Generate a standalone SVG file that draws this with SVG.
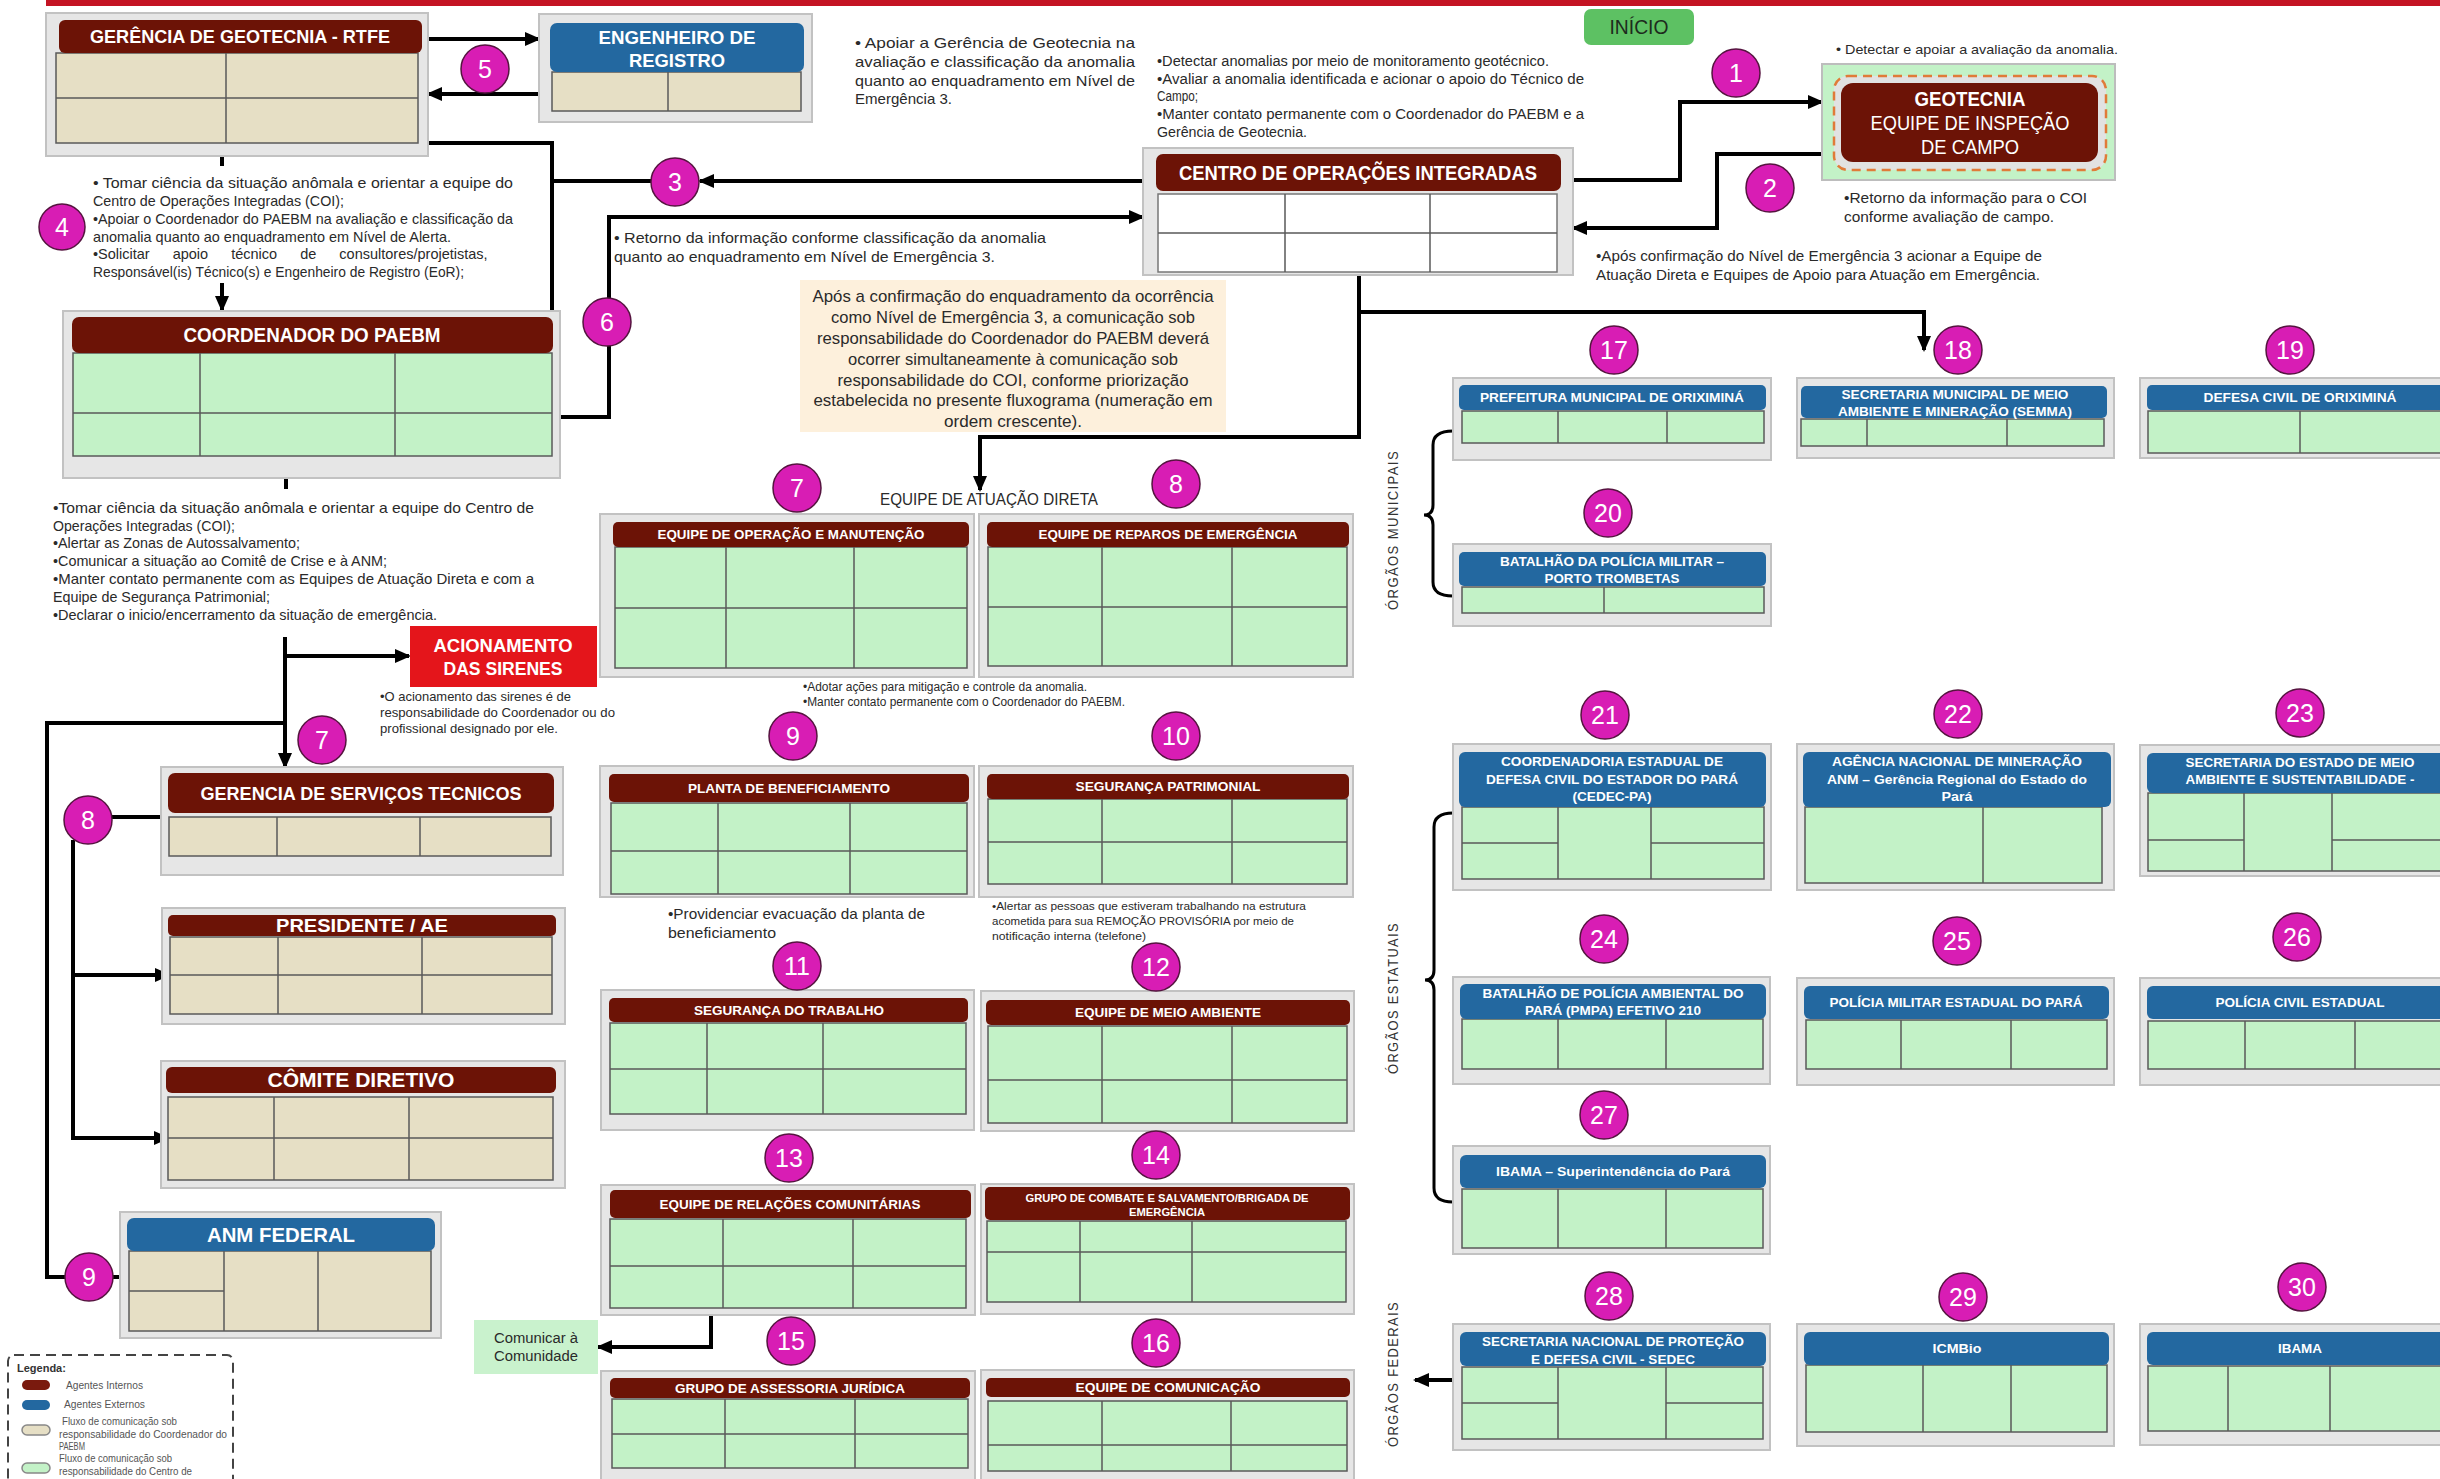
<svg xmlns="http://www.w3.org/2000/svg" width="2440" height="1479" viewBox="0 0 2440 1479">
<defs>
<marker id="ah" markerWidth="16" markerHeight="16" refX="14" refY="8" orient="auto" markerUnits="userSpaceOnUse"><path d="M0,1 L16,8 L0,15 z" fill="#000"/></marker>
<style>
text{font-family:"Liberation Sans",Arial,sans-serif}
.o{fill:#e6e6e6;stroke:#c2c2c2;stroke-width:2}
.hr{fill:#6c1306}
.hb{fill:#2368a0}
.tb{fill:#e6dfc5;stroke:#5a5a5a;stroke-width:1.5}
.tg{fill:#c3f2c7;stroke:#5a5a5a;stroke-width:1.5}
.tw{fill:#fff;stroke:#777;stroke-width:1.5}
.g{stroke:#5a5a5a;stroke-width:1.5;fill:none}
.ht{fill:#fff;font-weight:bold;text-anchor:middle}
.c{stroke:#000;stroke-width:4;fill:none}
.ca{stroke:#000;stroke-width:4;fill:none;marker-end:url(#ah)}
.n circle{fill:#d81db4;stroke:#55143f;stroke-width:1.5}
.n text{fill:#fff;font-size:25px;text-anchor:middle}
.p{fill:#2a2a2a}
.lg{fill:#555;font-size:10.5px}
.org{fill:#333;font-size:14px;text-anchor:middle;letter-spacing:1.5px}
</style>
</defs>
<rect x="0" y="0" width="2440" height="1479" fill="#fff"/>
<rect x="46" y="0" width="2394" height="6" fill="#c41423"/>

<!-- connectors -->
<g id="connectors">
<path class="ca" d="M428,39H539"/>
<path class="ca" d="M539,94H428"/>
<path class="ca" d="M1143,181H700"/>
<path class="c" d="M651,181H552"/>
<path class="c" d="M428,143H552V311"/>
<path class="c" d="M222,156V166"/>
<path class="ca" d="M222,283V310"/>
<path class="ca" d="M560,417H609V217H1143"/>
<path class="ca" d="M1573,180H1680V102H1822"/>
<path class="ca" d="M1822,154H1717V228H1573"/>
<path class="ca" d="M1359,275V437H980V490"/>
<path class="ca" d="M1359,312H1924V350"/>
<path class="c" d="M286,478V489"/>
<path class="ca" d="M285,637V767"/>
<path class="ca" d="M285,656H409"/>
<path class="c" d="M285,723H47V1277H65"/>
<path class="c" d="M113,1277H120"/>
<path class="c" d="M112,817H161"/>
<path class="ca" d="M73,840V1138H168"/>
<path class="ca" d="M73,975H169"/>
<path class="ca" d="M711,1315V1347H598"/>
<path class="ca" d="M1453,1380H1415"/>
<path fill="none" stroke="#000" stroke-width="3" d="M1453,431Q1433,431 1433,445V505Q1433,515 1424,515Q1433,515 1433,525V582Q1433,596 1453,596"/>
<path fill="none" stroke="#000" stroke-width="3" d="M1453,813Q1434,813 1434,827V970Q1434,980 1425,980Q1434,980 1434,990V1188Q1434,1202 1453,1202"/>
</g>

<!-- top items -->
<g id="inicio">
<rect x="1584" y="9" width="110" height="36" rx="7" fill="#5dc163"/>
<text x="1639" y="34" font-size="20" fill="#1d2b1d" text-anchor="middle" textLength="59" lengthAdjust="spacingAndGlyphs">INÍCIO</text>
</g>

<g id="gerencia-geotecnia">
<rect class="o" x="46" y="13" width="382" height="143"/>
<rect class="tb" x="56" y="53" width="362" height="90"/>
<path class="g" d="M56,98H418M226,53V143"/>
<rect class="hr" x="59" y="20" width="363" height="33" rx="6"/>
<text class="ht" x="240" y="43" font-size="19" textLength="300" lengthAdjust="spacingAndGlyphs">GERÊNCIA DE GEOTECNIA - RTFE</text>
</g>

<g id="engenheiro-registro">
<rect class="o" x="539" y="14" width="273" height="108"/>
<rect class="tb" x="552" y="72" width="249" height="39"/>
<path class="g" d="M668,72V111"/>
<rect class="hb" x="550" y="23" width="254" height="49" rx="7"/>
<text class="ht" x="677" y="44" font-size="19" textLength="157" lengthAdjust="spacingAndGlyphs">ENGENHEIRO DE</text>
<text class="ht" x="677" y="67" font-size="19" textLength="96" lengthAdjust="spacingAndGlyphs">REGISTRO</text>
</g>

<g id="coi">
<rect class="o" x="1143" y="148" width="430" height="127"/>
<rect class="tw" x="1158" y="194" width="399" height="78"/>
<path class="g" d="M1158,233H1557M1285,194V272M1430,194V272" stroke="#777"/>
<rect class="hr" x="1156" y="154" width="405" height="37" rx="7"/>
<text class="ht" x="1358" y="180" font-size="20" textLength="358" lengthAdjust="spacingAndGlyphs">CENTRO DE OPERAÇÕES INTEGRADAS</text>
</g>

<g id="geotecnia-campo">
<rect x="1822" y="64" width="293" height="116" fill="#c3f2c7" stroke="#bdbdbd" stroke-width="2"/>
<rect x="1834" y="76" width="272" height="94" rx="14" fill="#e2e2e2" stroke="#e07b39" stroke-width="2.5" stroke-dasharray="9 6"/>
<rect x="1841" y="83" width="257" height="79" rx="12" fill="#6c1306"/>
<text class="ht" x="1970" y="106" font-size="20" textLength="111" lengthAdjust="spacingAndGlyphs">GEOTECNIA</text>
<text x="1970" y="130" font-size="20" fill="#fff" text-anchor="middle" textLength="199" lengthAdjust="spacingAndGlyphs">EQUIPE DE INSPEÇÃO</text>
<text x="1970" y="154" font-size="20" fill="#fff" text-anchor="middle" textLength="98" lengthAdjust="spacingAndGlyphs">DE CAMPO</text>
</g>

<g id="coordenador-paebm">
<rect class="o" x="63" y="311" width="497" height="167"/>
<rect class="tg" x="73" y="353" width="479" height="103"/>
<path class="g" d="M73,413H552M200,353V456M395,353V456"/>
<rect class="hr" x="72" y="317" width="481" height="36" rx="7"/>
<text class="ht" x="312" y="342" font-size="20" textLength="257" lengthAdjust="spacingAndGlyphs">COORDENADOR DO PAEBM</text>
</g>

<!-- paragraphs -->
<g id="texts" class="p">
<text font-size="15" x="855" y="48" textLength="280" lengthAdjust="spacingAndGlyphs">• Apoiar a Gerência de Geotecnia na</text>
<text font-size="15" x="855" y="67" textLength="280" lengthAdjust="spacingAndGlyphs">avaliação e classificação da anomalia</text>
<text font-size="15" x="855" y="86" textLength="280" lengthAdjust="spacingAndGlyphs">quanto ao enquadramento em Nível de</text>
<text font-size="15" x="855" y="104" textLength="97" lengthAdjust="spacingAndGlyphs">Emergência 3.</text>

<text font-size="14" x="1157" y="66" textLength="392" lengthAdjust="spacingAndGlyphs">•Detectar anomalias por meio de monitoramento geotécnico.</text>
<text font-size="14" x="1157" y="84" textLength="427" lengthAdjust="spacingAndGlyphs">•Avaliar a anomalia identificada e acionar o apoio do Técnico de</text>
<text font-size="14" x="1157" y="101" textLength="41" lengthAdjust="spacingAndGlyphs">Campo;</text>
<text font-size="14" x="1157" y="119" textLength="427" lengthAdjust="spacingAndGlyphs">•Manter contato permanente com o Coordenador do PAEBM e a</text>
<text font-size="14" x="1157" y="137" textLength="150" lengthAdjust="spacingAndGlyphs">Gerência de Geotecnia.</text>

<text font-size="13.5" x="1836" y="54" textLength="282" lengthAdjust="spacingAndGlyphs">• Detectar e apoiar a avaliação da anomalia.</text>
<text font-size="15" x="1844" y="203" textLength="243" lengthAdjust="spacingAndGlyphs">•Retorno da informação para o COI</text>
<text font-size="15" x="1844" y="222" textLength="210" lengthAdjust="spacingAndGlyphs">conforme avaliação de campo.</text>
<text font-size="15" x="1596" y="261" textLength="446" lengthAdjust="spacingAndGlyphs">•Após confirmação do Nível de Emergência 3 acionar a Equipe de</text>
<text font-size="15" x="1596" y="280" textLength="444" lengthAdjust="spacingAndGlyphs">Atuação Direta e Equipes de Apoio para Atuação em Emergência.</text>

<text font-size="14.5" x="93" y="188" textLength="420" lengthAdjust="spacingAndGlyphs">• Tomar ciência da situação anômala e orientar a equipe do</text>
<text font-size="14.5" x="93" y="206" textLength="251" lengthAdjust="spacingAndGlyphs">Centro de Operações Integradas (COI);</text>
<text font-size="14.5" x="93" y="224" textLength="420" lengthAdjust="spacingAndGlyphs">•Apoiar o Coordenador do PAEBM na avaliação e classificação da</text>
<text font-size="14.5" x="93" y="242" textLength="358" lengthAdjust="spacingAndGlyphs">anomalia quanto ao enquadramento em Nível de Alerta.</text>
<text font-size="14.5" x="93" y="259" word-spacing="19">•Solicitar apoio técnico de consultores/projetistas,</text>
<text font-size="14.5" x="93" y="277" textLength="371" lengthAdjust="spacingAndGlyphs">Responsável(is) Técnico(s) e Engenheiro de Registro (EoR);</text>

<text font-size="15" x="614" y="243" textLength="432" lengthAdjust="spacingAndGlyphs">• Retorno da informação conforme classificação da anomalia</text>
<text font-size="15" x="614" y="262" textLength="381" lengthAdjust="spacingAndGlyphs">quanto ao enquadramento em Nível de Emergência 3.</text>

<text font-size="14.5" x="53" y="513" textLength="481" lengthAdjust="spacingAndGlyphs">•Tomar ciência da situação anômala e orientar a equipe do Centro de</text>
<text font-size="14.5" x="53" y="531" textLength="182" lengthAdjust="spacingAndGlyphs">Operações Integradas (COI);</text>
<text font-size="14.5" x="53" y="548" textLength="247" lengthAdjust="spacingAndGlyphs">•Alertar as Zonas de Autossalvamento;</text>
<text font-size="14.5" x="53" y="566" textLength="334" lengthAdjust="spacingAndGlyphs">•Comunicar a situação ao Comitê de Crise  e à ANM;</text>
<text font-size="14.5" x="53" y="584" textLength="481" lengthAdjust="spacingAndGlyphs">•Manter contato permanente com as Equipes de Atuação Direta e com a</text>
<text font-size="14.5" x="53" y="602" textLength="217" lengthAdjust="spacingAndGlyphs">Equipe de Segurança Patrimonial;</text>
<text font-size="14.5" x="53" y="620" textLength="384" lengthAdjust="spacingAndGlyphs">•Declarar o inicio/encerramento da situação de emergência.</text>

<text font-size="13" x="380" y="701" textLength="191" lengthAdjust="spacingAndGlyphs">•O acionamento das sirenes é de</text>
<text font-size="13" x="380" y="717" textLength="235" lengthAdjust="spacingAndGlyphs">responsabilidade do Coordenador ou do</text>
<text font-size="13" x="380" y="733" textLength="178" lengthAdjust="spacingAndGlyphs">profissional designado por ele.</text>

<text font-size="12" x="803" y="691" textLength="284" lengthAdjust="spacingAndGlyphs">•Adotar ações para mitigação e controle da anomalia.</text>
<text font-size="12" x="803" y="706" textLength="322" lengthAdjust="spacingAndGlyphs">•Manter contato permanente com o Coordenador do PAEBM.</text>

<text font-size="15" x="668" y="919" textLength="257" lengthAdjust="spacingAndGlyphs">•Providenciar evacuação da planta de</text>
<text font-size="15" x="668" y="938" textLength="108" lengthAdjust="spacingAndGlyphs">beneficiamento</text>

<text font-size="11.5" x="992" y="910" textLength="314" lengthAdjust="spacingAndGlyphs">•Alertar as pessoas que estiveram trabalhando na estrutura</text>
<text font-size="11.5" x="992" y="925" textLength="302" lengthAdjust="spacingAndGlyphs">acometida para sua  REMOÇÃO PROVISÓRIA por meio de</text>
<text font-size="11.5" x="992" y="940" textLength="154" lengthAdjust="spacingAndGlyphs">notificação interna (telefone)</text>

<text font-size="17" x="880" y="505" textLength="218" lengthAdjust="spacingAndGlyphs">EQUIPE DE ATUAÇÃO DIRETA</text>
</g>

<g id="nota-priorizacao">
<rect x="800" y="280" width="426" height="152" fill="#fdf0dc"/>
<g class="p" font-size="17" text-anchor="middle">
<text x="1013" y="302" textLength="401" lengthAdjust="spacingAndGlyphs">Após a confirmação do enquadramento da ocorrência</text>
<text x="1013" y="323" textLength="364" lengthAdjust="spacingAndGlyphs">como Nível de Emergência 3, a comunicação sob</text>
<text x="1013" y="344" textLength="392" lengthAdjust="spacingAndGlyphs">responsabilidade do Coordenador do PAEBM deverá</text>
<text x="1013" y="365" textLength="330" lengthAdjust="spacingAndGlyphs">ocorrer simultaneamente à comunicação sob</text>
<text x="1013" y="386" textLength="351" lengthAdjust="spacingAndGlyphs">responsabilidade do COI, conforme priorização</text>
<text x="1013" y="406" textLength="399" lengthAdjust="spacingAndGlyphs">estabelecida no presente fluxograma (numeração em</text>
<text x="1013" y="427" textLength="138" lengthAdjust="spacingAndGlyphs">ordem crescente).</text>
</g>
</g>

<g id="acionamento-sirenes">
<rect x="410" y="626" width="187" height="61" fill="#e4151b"/>
<text class="ht" x="503" y="652" font-size="19" textLength="139" lengthAdjust="spacingAndGlyphs">ACIONAMENTO</text>
<text class="ht" x="503" y="675" font-size="19" textLength="119" lengthAdjust="spacingAndGlyphs">DAS SIRENES</text>
</g>

<!-- left column -->
<g id="gerencia-servicos">
<rect class="o" x="161" y="767" width="402" height="108"/>
<rect class="tb" x="169" y="817" width="382" height="39"/>
<path class="g" d="M277,817V856M420,817V856"/>
<rect class="hr" x="168" y="773" width="386" height="40" rx="7"/>
<text class="ht" x="361" y="800" font-size="19" textLength="321" lengthAdjust="spacingAndGlyphs">GERENCIA DE SERVIÇOS TECNICOS</text>
</g>
<g id="presidente-ae">
<rect class="o" x="162" y="908" width="403" height="116"/>
<rect class="tb" x="170" y="937" width="382" height="77"/>
<path class="g" d="M170,975H552M278,937V1014M422,937V1014"/>
<rect class="hr" x="168" y="915" width="388" height="21" rx="5"/>
<text class="ht" x="362" y="932" font-size="19" textLength="172" lengthAdjust="spacingAndGlyphs">PRESIDENTE / AE</text>
</g>
<g id="comite-diretivo">
<rect class="o" x="161" y="1061" width="404" height="127"/>
<rect class="tb" x="168" y="1097" width="385" height="83"/>
<path class="g" d="M168,1138H553M274,1097V1180M409,1097V1180"/>
<rect class="hr" x="166" y="1067" width="390" height="26" rx="6"/>
<text class="ht" x="361" y="1087" font-size="20" textLength="187" lengthAdjust="spacingAndGlyphs">CÔMITE DIRETIVO</text>
</g>
<g id="anm-federal">
<rect class="o" x="120" y="1212" width="321" height="126"/>
<rect class="tb" x="129" y="1251" width="302" height="80"/>
<path class="g" d="M224,1251V1331M318,1251V1331M129,1291H224"/>
<rect class="hb" x="127" y="1218" width="308" height="33" rx="7"/>
<text class="ht" x="281" y="1242" font-size="20" textLength="148" lengthAdjust="spacingAndGlyphs">ANM FEDERAL</text>
</g>

<!-- direct teams -->
<g id="eq-operacao-manutencao">
<rect class="o" x="600" y="514" width="374" height="163"/>
<rect class="tg" x="615" y="547" width="352" height="121"/>
<path class="g" d="M615,608H967M726,547V668M854,547V668"/>
<rect class="hr" x="613" y="522" width="356" height="25" rx="5"/>
<text class="ht" x="791" y="539" font-size="13" textLength="267" lengthAdjust="spacingAndGlyphs">EQUIPE DE OPERAÇÃO E MANUTENÇÃO</text>
</g>
<g id="eq-reparos-emergencia">
<rect class="o" x="979" y="514" width="374" height="163"/>
<rect class="tg" x="988" y="547" width="359" height="119"/>
<path class="g" d="M988,607H1347M1102,547V666M1232,547V666"/>
<rect class="hr" x="987" y="522" width="362" height="25" rx="5"/>
<text class="ht" x="1168" y="539" font-size="13" textLength="259" lengthAdjust="spacingAndGlyphs">EQUIPE DE REPAROS DE EMERGÊNCIA</text>
</g>
<g id="planta-beneficiamento">
<rect class="o" x="600" y="766" width="374" height="131"/>
<rect class="tg" x="611" y="803" width="356" height="91"/>
<path class="g" d="M611,851H967M718,803V894M850,803V894"/>
<rect class="hr" x="609" y="774" width="360" height="28" rx="5"/>
<text class="ht" x="789" y="793" font-size="13" textLength="202" lengthAdjust="spacingAndGlyphs">PLANTA DE BENEFICIAMENTO</text>
</g>
<g id="seguranca-patrimonial">
<rect class="o" x="979" y="766" width="374" height="131"/>
<rect class="tg" x="988" y="799" width="359" height="85"/>
<path class="g" d="M988,842H1347M1102,799V884M1232,799V884"/>
<rect class="hr" x="987" y="774" width="362" height="25" rx="5"/>
<text class="ht" x="1168" y="791" font-size="13" textLength="185" lengthAdjust="spacingAndGlyphs">SEGURANÇA PATRIMONIAL</text>
</g>
<g id="seguranca-trabalho">
<rect class="o" x="601" y="990" width="373" height="140"/>
<rect class="tg" x="610" y="1023" width="356" height="91"/>
<path class="g" d="M610,1069H966M707,1023V1114M823,1023V1114"/>
<rect class="hr" x="609" y="998" width="359" height="24" rx="5"/>
<text class="ht" x="789" y="1015" font-size="13" textLength="190" lengthAdjust="spacingAndGlyphs">SEGURANÇA DO TRABALHO</text>
</g>
<g id="meio-ambiente">
<rect class="o" x="981" y="991" width="373" height="140"/>
<rect class="tg" x="988" y="1026" width="359" height="97"/>
<path class="g" d="M988,1080H1347M1102,1026V1123M1232,1026V1123"/>
<rect class="hr" x="986" y="1000" width="364" height="25" rx="5"/>
<text class="ht" x="1168" y="1017" font-size="13" textLength="186" lengthAdjust="spacingAndGlyphs">EQUIPE DE MEIO AMBIENTE</text>
</g>
<g id="relacoes-comunitarias">
<rect class="o" x="601" y="1185" width="374" height="130"/>
<rect class="tg" x="610" y="1219" width="356" height="89"/>
<path class="g" d="M610,1266H966M723,1219V1308M853,1219V1308"/>
<rect class="hr" x="610" y="1190" width="361" height="28" rx="5"/>
<text class="ht" x="790" y="1209" font-size="13" textLength="261" lengthAdjust="spacingAndGlyphs">EQUIPE DE RELAÇÕES COMUNITÁRIAS</text>
</g>
<g id="brigada-emergencia">
<rect class="o" x="981" y="1184" width="373" height="130"/>
<rect class="tg" x="987" y="1221" width="359" height="81"/>
<path class="g" d="M987,1252H1346M1080,1221V1302M1192,1221V1302"/>
<rect class="hr" x="985" y="1187" width="365" height="33" rx="5"/>
<text class="ht" x="1167" y="1202" font-size="11.5" textLength="283" lengthAdjust="spacingAndGlyphs">GRUPO DE COMBATE E SALVAMENTO/BRIGADA DE</text>
<text class="ht" x="1167" y="1216" font-size="11.5" textLength="76" lengthAdjust="spacingAndGlyphs">EMERGÊNCIA</text>
</g>
<g id="assessoria-juridica">
<rect class="o" x="601" y="1371" width="374" height="120"/>
<rect class="tg" x="612" y="1399" width="356" height="69"/>
<path class="g" d="M612,1434H968M725,1399V1468M855,1399V1468"/>
<rect class="hr" x="610" y="1378" width="360" height="20" rx="5"/>
<text class="ht" x="790" y="1393" font-size="13" textLength="230" lengthAdjust="spacingAndGlyphs">GRUPO DE ASSESSORIA JURÍDICA</text>
</g>
<g id="equipe-comunicacao">
<rect class="o" x="981" y="1370" width="373" height="120"/>
<rect class="tg" x="988" y="1401" width="359" height="70"/>
<path class="g" d="M988,1445H1347M1102,1401V1471M1231,1401V1471"/>
<rect class="hr" x="986" y="1378" width="364" height="19" rx="5"/>
<text class="ht" x="1168" y="1392" font-size="13" textLength="185" lengthAdjust="spacingAndGlyphs">EQUIPE DE COMUNICAÇÃO</text>
</g>
<g id="comunicar-comunidade">
<rect x="474" y="1320" width="124" height="54" fill="#c9f2cd"/>
<text class="p" x="536" y="1343" font-size="14" text-anchor="middle" textLength="84" lengthAdjust="spacingAndGlyphs">Comunicar à</text>
<text class="p" x="536" y="1361" font-size="14" text-anchor="middle" textLength="84" lengthAdjust="spacingAndGlyphs">Comunidade</text>
</g>

<!-- external organs -->
<g id="prefeitura-oriximina">
<rect class="o" x="1453" y="378" width="318" height="82"/>
<rect class="tg" x="1462" y="411" width="302" height="32"/>
<path class="g" d="M1558,411V443M1667,411V443"/>
<rect class="hb" x="1459" y="385" width="307" height="25" rx="5"/>
<text class="ht" x="1612" y="402" font-size="12.5" textLength="264" lengthAdjust="spacingAndGlyphs">PREFEITURA MUNICIPAL DE ORIXIMINÁ</text>
</g>
<g id="semma">
<rect class="o" x="1797" y="378" width="317" height="80"/>
<rect class="tg" x="1801" y="419" width="303" height="27"/>
<path class="g" d="M1867,419V446M2007,419V446"/>
<rect class="hb" x="1801" y="386" width="306" height="32" rx="5"/>
<text class="ht" x="1955" y="399" font-size="12.5" textLength="227" lengthAdjust="spacingAndGlyphs">SECRETARIA MUNICIPAL DE MEIO</text>
<text class="ht" x="1955" y="416" font-size="12.5" textLength="234" lengthAdjust="spacingAndGlyphs">AMBIENTE E MINERAÇÃO (SEMMA)</text>
</g>
<g id="defesa-civil-oriximina">
<rect class="o" x="2140" y="378" width="317" height="80"/>
<rect class="tg" x="2148" y="411" width="302" height="42"/>
<path class="g" d="M2300,411V453"/>
<rect class="hb" x="2147" y="385" width="305" height="25" rx="5"/>
<text class="ht" x="2300" y="402" font-size="12.5" textLength="193" lengthAdjust="spacingAndGlyphs">DEFESA CIVIL DE ORIXIMINÁ</text>
</g>
<g id="batalhao-pm-trombetas">
<rect class="o" x="1453" y="544" width="318" height="82"/>
<rect class="tg" x="1462" y="587" width="302" height="26"/>
<path class="g" d="M1604,587V613"/>
<rect class="hb" x="1459" y="552" width="307" height="34" rx="5"/>
<text class="ht" x="1612" y="566" font-size="12.5" textLength="224" lengthAdjust="spacingAndGlyphs">BATALHÃO DA POLÍCIA MILITAR –</text>
<text class="ht" x="1612" y="583" font-size="12.5" textLength="135" lengthAdjust="spacingAndGlyphs">PORTO TROMBETAS</text>
</g>
<g id="cedec-pa">
<rect class="o" x="1453" y="744" width="318" height="146"/>
<rect class="tg" x="1462" y="807" width="302" height="72"/>
<path class="g" d="M1558,807V879M1651,807V879M1462,843H1558M1651,843H1764"/>
<rect class="hb" x="1459" y="752" width="307" height="55" rx="6"/>
<text class="ht" x="1612" y="766" font-size="12.5" textLength="222" lengthAdjust="spacingAndGlyphs">COORDENADORIA ESTADUAL DE</text>
<text class="ht" x="1612" y="784" font-size="12.5" textLength="252" lengthAdjust="spacingAndGlyphs">DEFESA CIVIL DO ESTADOR DO PARÁ</text>
<text class="ht" x="1612" y="801" font-size="12.5" textLength="79" lengthAdjust="spacingAndGlyphs">(CEDEC-PA)</text>
</g>
<g id="anm-regional">
<rect class="o" x="1797" y="744" width="317" height="146"/>
<rect class="tg" x="1805" y="807" width="297" height="76"/>
<path class="g" d="M1983,807V883"/>
<rect class="hb" x="1803" y="752" width="308" height="55" rx="6"/>
<text class="ht" x="1957" y="766" font-size="12.5" textLength="250" lengthAdjust="spacingAndGlyphs">AGÊNCIA NACIONAL DE MINERAÇÃO</text>
<text class="ht" x="1957" y="784" font-size="12.5" textLength="260" lengthAdjust="spacingAndGlyphs">ANM – Gerência Regional do Estado do</text>
<text class="ht" x="1957" y="801" font-size="12.5" textLength="31" lengthAdjust="spacingAndGlyphs">Pará</text>
</g>
<g id="semas">
<rect class="o" x="2140" y="745" width="317" height="131"/>
<rect class="tg" x="2148" y="793" width="302" height="78"/>
<path class="g" d="M2244,793V871M2332,793V871M2148,840H2244M2332,840H2450"/>
<rect class="hb" x="2147" y="753" width="305" height="40" rx="6"/>
<text class="ht" x="2300" y="767" font-size="12.5" textLength="229" lengthAdjust="spacingAndGlyphs">SECRETARIA DO ESTADO DE MEIO</text>
<text class="ht" x="2300" y="784" font-size="12.5" textLength="229" lengthAdjust="spacingAndGlyphs">AMBIENTE E SUSTENTABILIDADE -</text>
</g>
<g id="pmpa-ambiental">
<rect class="o" x="1453" y="977" width="317" height="107"/>
<rect class="tg" x="1462" y="1019" width="301" height="50"/>
<path class="g" d="M1558,1019V1069M1666,1019V1069"/>
<rect class="hb" x="1460" y="984" width="306" height="35" rx="6"/>
<text class="ht" x="1613" y="998" font-size="12.5" textLength="261" lengthAdjust="spacingAndGlyphs">BATALHÃO DE POLÍCIA AMBIENTAL DO</text>
<text class="ht" x="1613" y="1015" font-size="12.5" textLength="176" lengthAdjust="spacingAndGlyphs">PARÁ (PMPA) EFETIVO 210</text>
</g>
<g id="pm-estadual">
<rect class="o" x="1797" y="978" width="317" height="107"/>
<rect class="tg" x="1806" y="1020" width="301" height="49"/>
<path class="g" d="M1901,1020V1069M2011,1020V1069"/>
<rect class="hb" x="1804" y="986" width="305" height="33" rx="6"/>
<text class="ht" x="1956" y="1007" font-size="12.5" textLength="253" lengthAdjust="spacingAndGlyphs">POLÍCIA MILITAR ESTADUAL DO PARÁ</text>
</g>
<g id="policia-civil">
<rect class="o" x="2140" y="978" width="317" height="107"/>
<rect class="tg" x="2148" y="1021" width="302" height="48"/>
<path class="g" d="M2245,1021V1069M2355,1021V1069"/>
<rect class="hb" x="2147" y="986" width="305" height="33" rx="6"/>
<text class="ht" x="2300" y="1007" font-size="12.5" textLength="169" lengthAdjust="spacingAndGlyphs">POLÍCIA CIVIL ESTADUAL</text>
</g>
<g id="ibama-para">
<rect class="o" x="1453" y="1146" width="317" height="108"/>
<rect class="tg" x="1462" y="1189" width="301" height="59"/>
<path class="g" d="M1558,1189V1248M1666,1189V1248"/>
<rect class="hb" x="1460" y="1155" width="306" height="33" rx="6"/>
<text class="ht" x="1613" y="1176" font-size="12.5" textLength="234" lengthAdjust="spacingAndGlyphs">IBAMA – Superintendência do Pará</text>
</g>
<g id="sedec">
<rect class="o" x="1453" y="1324" width="317" height="126"/>
<rect class="tg" x="1462" y="1367" width="301" height="72"/>
<path class="g" d="M1558,1367V1439M1666,1367V1439M1462,1403H1558M1666,1403H1763"/>
<rect class="hb" x="1460" y="1332" width="306" height="34" rx="6"/>
<text class="ht" x="1613" y="1346" font-size="12.5" textLength="262" lengthAdjust="spacingAndGlyphs">SECRETARIA NACIONAL DE PROTEÇÃO</text>
<text class="ht" x="1613" y="1364" font-size="12.5" textLength="164" lengthAdjust="spacingAndGlyphs">E DEFESA CIVIL - SEDEC</text>
</g>
<g id="icmbio">
<rect class="o" x="1797" y="1324" width="317" height="122"/>
<rect class="tg" x="1806" y="1365" width="301" height="67"/>
<path class="g" d="M1923,1365V1432M2011,1365V1432"/>
<rect class="hb" x="1804" y="1332" width="305" height="33" rx="6"/>
<text class="ht" x="1957" y="1353" font-size="12.5" textLength="49" lengthAdjust="spacingAndGlyphs">ICMBio</text>
</g>
<g id="ibama">
<rect class="o" x="2140" y="1324" width="317" height="121"/>
<rect class="tg" x="2148" y="1366" width="302" height="65"/>
<path class="g" d="M2228,1366V1431M2330,1366V1431"/>
<rect class="hb" x="2147" y="1332" width="305" height="33" rx="6"/>
<text class="ht" x="2300" y="1353" font-size="12.5" textLength="44" lengthAdjust="spacingAndGlyphs">IBAMA</text>
</g>

<g id="orgaos-labels">
<text class="org" transform="translate(1398,530) rotate(-90)" textLength="160" lengthAdjust="spacingAndGlyphs">ÓRGÃOS MUNICIPAIS</text>
<text class="org" transform="translate(1398,998) rotate(-90)" textLength="152" lengthAdjust="spacingAndGlyphs">ÓRGÃOS ESTATUAIS</text>
<text class="org" transform="translate(1398,1374) rotate(-90)" textLength="146" lengthAdjust="spacingAndGlyphs">ÓRGÃOS FEDERAIS</text>
</g>

<!-- number badges -->
<g id="badges" class="n">
<g><circle cx="1736" cy="73" r="24"/><text x="1736" y="82">1</text></g>
<g><circle cx="1770" cy="188" r="24"/><text x="1770" y="197">2</text></g>
<g><circle cx="675" cy="182" r="24"/><text x="675" y="191">3</text></g>
<g><circle cx="62" cy="227" r="23"/><text x="62" y="236">4</text></g>
<g><circle cx="485" cy="69" r="24"/><text x="485" y="78">5</text></g>
<g><circle cx="607" cy="322" r="24"/><text x="607" y="331">6</text></g>
<g><circle cx="322" cy="740" r="24"/><text x="322" y="749">7</text></g>
<g><circle cx="88" cy="820" r="24"/><text x="88" y="829">8</text></g>
<g><circle cx="89" cy="1277" r="24"/><text x="89" y="1286">9</text></g>
<g><circle cx="797" cy="488" r="24"/><text x="797" y="497">7</text></g>
<g><circle cx="1176" cy="484" r="24"/><text x="1176" y="493">8</text></g>
<g><circle cx="793" cy="736" r="24"/><text x="793" y="745">9</text></g>
<g><circle cx="1176" cy="736" r="24"/><text x="1176" y="745">10</text></g>
<g><circle cx="797" cy="966" r="24"/><text x="797" y="975">11</text></g>
<g><circle cx="1156" cy="967" r="24"/><text x="1156" y="976">12</text></g>
<g><circle cx="789" cy="1158" r="24"/><text x="789" y="1167">13</text></g>
<g><circle cx="1156" cy="1155" r="24"/><text x="1156" y="1164">14</text></g>
<g><circle cx="791" cy="1341" r="24"/><text x="791" y="1350">15</text></g>
<g><circle cx="1156" cy="1343" r="24"/><text x="1156" y="1352">16</text></g>
<g><circle cx="1614" cy="350" r="24"/><text x="1614" y="359">17</text></g>
<g><circle cx="1958" cy="350" r="24"/><text x="1958" y="359">18</text></g>
<g><circle cx="2290" cy="350" r="24"/><text x="2290" y="359">19</text></g>
<g><circle cx="1608" cy="513" r="24"/><text x="1608" y="522">20</text></g>
<g><circle cx="1605" cy="715" r="24"/><text x="1605" y="724">21</text></g>
<g><circle cx="1958" cy="714" r="24"/><text x="1958" y="723">22</text></g>
<g><circle cx="2300" cy="713" r="24"/><text x="2300" y="722">23</text></g>
<g><circle cx="1604" cy="939" r="24"/><text x="1604" y="948">24</text></g>
<g><circle cx="1957" cy="941" r="24"/><text x="1957" y="950">25</text></g>
<g><circle cx="2297" cy="937" r="24"/><text x="2297" y="946">26</text></g>
<g><circle cx="1604" cy="1115" r="24"/><text x="1604" y="1124">27</text></g>
<g><circle cx="1609" cy="1296" r="24"/><text x="1609" y="1305">28</text></g>
<g><circle cx="1963" cy="1297" r="24"/><text x="1963" y="1306">29</text></g>
<g><circle cx="2302" cy="1287" r="24"/><text x="2302" y="1296">30</text></g>
</g>

<!-- legend -->
<g id="legenda">
<rect x="8" y="1355" width="225" height="140" rx="6" fill="none" stroke="#444" stroke-width="2" stroke-dasharray="10 6"/>
<text x="17" y="1372" font-size="11" font-weight="bold" fill="#333">Legenda:</text>
<rect x="22" y="1380" width="28" height="10" rx="5" fill="#7a1a0e"/>
<text class="lg" x="66" y="1389" textLength="77" lengthAdjust="spacingAndGlyphs">Agentes Internos</text>
<rect x="22" y="1400" width="28" height="10" rx="5" fill="#2368a0"/>
<text class="lg" x="64" y="1408" textLength="81" lengthAdjust="spacingAndGlyphs">Agentes Externos</text>
<rect x="22" y="1425" width="28" height="10" rx="5" fill="#e6dfc5" stroke="#888" stroke-width="1.5"/>
<text class="lg" x="62" y="1425" textLength="115" lengthAdjust="spacingAndGlyphs">Fluxo de comunicação sob</text>
<text class="lg" x="59" y="1438" textLength="168" lengthAdjust="spacingAndGlyphs">responsabilidade do Coordenador do</text>
<text class="lg" x="59" y="1450" textLength="26" lengthAdjust="spacingAndGlyphs">PAEBM</text>
<rect x="22" y="1463" width="28" height="10" rx="5" fill="#c3f2c7" stroke="#888" stroke-width="1.5"/>
<text class="lg" x="59" y="1462" textLength="113" lengthAdjust="spacingAndGlyphs">Fluxo de comunicação sob</text>
<text class="lg" x="59" y="1475" textLength="133" lengthAdjust="spacingAndGlyphs">responsabilidade do Centro de</text>
</g>
</svg>
